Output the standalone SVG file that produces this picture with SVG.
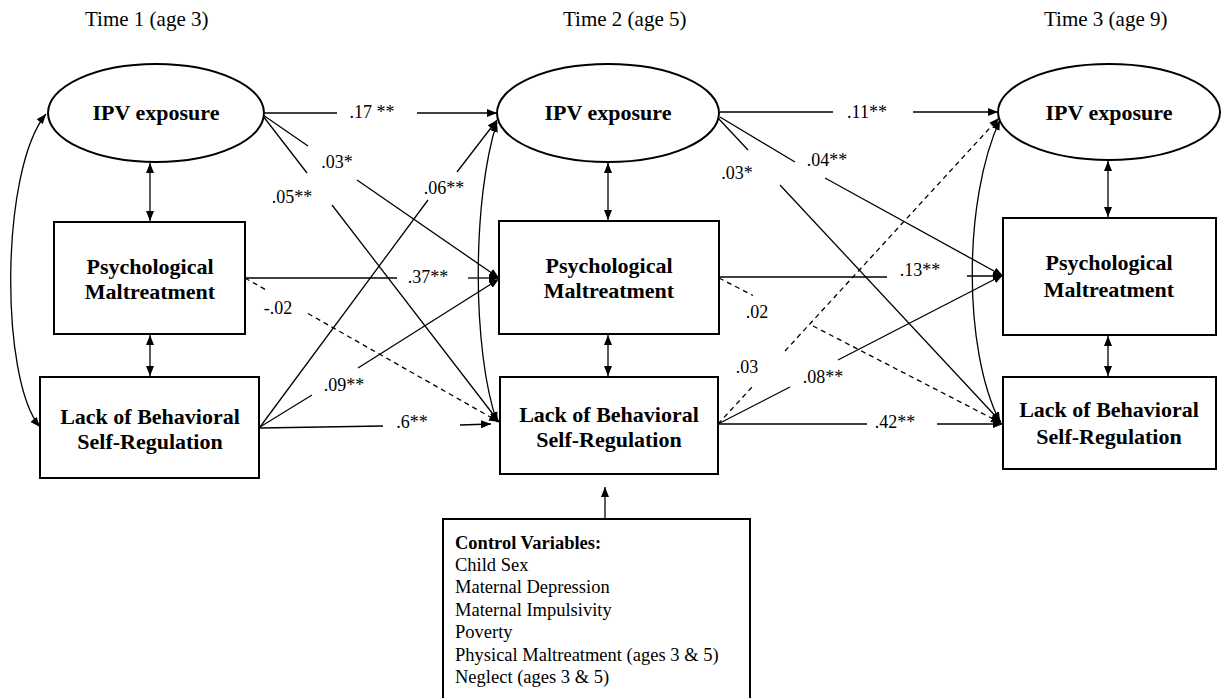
<svg xmlns="http://www.w3.org/2000/svg" width="1226" height="698" viewBox="0 0 1226 698">
<style>
.node{fill:#fff;stroke:#000;stroke-width:2}
.lbl{font-family:"Liberation Serif","Times New Roman",serif;font-weight:bold;font-size:22px;text-anchor:middle;fill:#000}
.time{font-family:"Liberation Serif","Times New Roman",serif;font-size:21px;fill:#000}
.coef{font-family:"Liberation Serif","Times New Roman",serif;font-size:18px;text-anchor:middle;fill:#000}
.ctl{font-family:"Liberation Serif","Times New Roman",serif;font-size:18.5px;fill:#000}
.ln{fill:none;stroke:#000;stroke-width:1.3}
.dash{stroke-dasharray:5 4}
.arr{marker-end:url(#ah)}
.dbl{marker-start:url(#ah);marker-end:url(#ah)}
</style>
<defs>
<marker id="ah" viewBox="0 0 10 8" refX="10" refY="4" markerWidth="10" markerHeight="8" markerUnits="userSpaceOnUse" orient="auto-start-reverse">
<path d="M0,0 L10,4 L0,8 z" fill="#000"/>
</marker>
</defs>
<rect width="1226" height="698" fill="#fff"/>

<g id="time-labels">
<text class="time" x="85" y="26">Time 1 (age 3)</text>
<text class="time" x="563" y="26">Time 2 (age 5)</text>
<text class="time" x="1044" y="26">Time 3 (age 9)</text>
</g>

<g id="connectors">
<!-- vertical covariances -->
<line class="ln dbl" x1="150" y1="163" x2="150" y2="221"/>
<line class="ln dbl" x1="150" y1="335" x2="150" y2="376"/>
<line class="ln dbl" x1="608" y1="163" x2="608" y2="220"/>
<line class="ln dbl" x1="608" y1="335" x2="608" y2="376"/>
<line class="ln dbl" x1="1108" y1="161" x2="1108" y2="217"/>
<line class="ln dbl" x1="1108" y1="336" x2="1108" y2="376"/>
<!-- curved covariances -->
<path class="ln dbl" d="M46,114 C0,170 0,380 40,427"/>
<path class="ln dbl" d="M497,122 C472,200 472,350 497,422"/>
<path class="ln dbl" d="M1000,120 C963,200 963,350 1000,422"/>
<!-- Time 1 to Time 2 -->
<line class="ln" x1="263" y1="113" x2="337" y2="113"/>
<line class="ln arr" x1="417" y1="113" x2="497" y2="113"/>
<line class="ln" x1="263" y1="115" x2="308" y2="146"/>
<line class="ln arr" x1="357" y1="180" x2="499" y2="278"/>
<line class="ln" x1="263" y1="116" x2="307" y2="173"/>
<line class="ln arr" x1="332" y1="205" x2="499" y2="422"/>
<line class="ln" x1="245" y1="278" x2="397" y2="278"/>
<line class="ln arr" x1="468" y1="278" x2="499" y2="278"/>
<line class="ln dash" x1="245" y1="278" x2="267" y2="290.5"/>
<line class="ln dash arr" x1="308" y1="313.5" x2="499" y2="422"/>
<line class="ln" x1="260" y1="427" x2="428" y2="200"/>
<line class="ln arr" x1="457" y1="172" x2="497" y2="120"/>
<line class="ln" x1="260" y1="427" x2="312" y2="395"/>
<line class="ln arr" x1="358" y1="368" x2="499" y2="279"/>
<line class="ln" x1="260" y1="428" x2="383" y2="426"/>
<line class="ln arr" x1="460" y1="425" x2="491" y2="424"/>
<!-- Time 2 to Time 3 -->
<line class="ln" x1="720" y1="112" x2="833" y2="112"/>
<line class="ln arr" x1="913" y1="112" x2="998" y2="112"/>
<line class="ln" x1="720" y1="117" x2="795" y2="162"/>
<line class="ln arr" x1="825" y1="178" x2="1003" y2="276"/>
<line class="ln" x1="718" y1="118" x2="748" y2="150"/>
<line class="ln arr" x1="780" y1="185" x2="1001" y2="422"/>
<line class="ln" x1="719" y1="277" x2="887" y2="277"/>
<line class="ln arr" x1="967" y1="276" x2="1003" y2="276"/>
<line class="ln dash" x1="719" y1="278" x2="753" y2="295.5"/>
<line class="ln dash arr" x1="813" y1="326" x2="1001" y2="423"/>
<line class="ln dash" x1="718" y1="424" x2="753" y2="386"/>
<line class="ln dash arr" x1="785" y1="351" x2="999" y2="118"/>
<line class="ln" x1="718" y1="424" x2="790" y2="387"/>
<line class="ln arr" x1="838" y1="360" x2="1003" y2="275"/>
<line class="ln" x1="718" y1="424" x2="867" y2="424"/>
<line class="ln arr" x1="937" y1="424" x2="1003" y2="424"/>
<!-- controls -->
<line class="ln arr" x1="605" y1="519" x2="605" y2="487"/>
</g>

<g id="coefficients">
<text class="coef" x="372" y="118">.17 **</text>
<text class="coef" x="337" y="168">.03*</text>
<text class="coef" x="292" y="203">.05**</text>
<text class="coef" x="444" y="194">.06**</text>
<text class="coef" x="428" y="283">.37**</text>
<text class="coef" x="278" y="314">-.02</text>
<text class="coef" x="344" y="391">.09**</text>
<text class="coef" x="412" y="428">.6**</text>
<text class="coef" x="867" y="118">.11**</text>
<text class="coef" x="827" y="166">.04**</text>
<text class="coef" x="737" y="179">.03*</text>
<text class="coef" x="920" y="276">.13**</text>
<text class="coef" x="757" y="318">.02</text>
<text class="coef" x="747" y="373">.03</text>
<text class="coef" x="823" y="383">.08**</text>
<text class="coef" x="895" y="428">.42**</text>
</g>

<g id="ipv1"><ellipse class="node" cx="156" cy="113" rx="108" ry="49"/><text class="lbl" x="156" y="120">IPV exposure</text></g>
<g id="pm1"><rect class="node" x="54" y="222" width="191" height="112"/><text class="lbl" x="150" y="274">Psychological</text><text class="lbl" x="150" y="299">Maltreatment</text></g>
<g id="lbsr1"><rect class="node" x="40" y="377" width="219" height="101"/><text class="lbl" x="150" y="424">Lack of Behavioral</text><text class="lbl" x="150" y="449">Self-Regulation</text></g>

<g id="ipv2"><ellipse class="node" cx="608" cy="113" rx="111" ry="49"/><text class="lbl" x="608" y="120">IPV exposure</text></g>
<g id="pm2"><rect class="node" x="499" y="221" width="220" height="113"/><text class="lbl" x="609" y="273">Psychological</text><text class="lbl" x="609" y="298">Maltreatment</text></g>
<g id="lbsr2"><rect class="node" x="500" y="377" width="218" height="97"/><text class="lbl" x="609" y="422">Lack of Behavioral</text><text class="lbl" x="609" y="447">Self-Regulation</text></g>

<g id="ipv3"><ellipse class="node" cx="1109" cy="112" rx="111" ry="48"/><text class="lbl" x="1109" y="120">IPV exposure</text></g>
<g id="pm3"><rect class="node" x="1003" y="218" width="213" height="117"/><text class="lbl" x="1109" y="270">Psychological</text><text class="lbl" x="1109" y="297">Maltreatment</text></g>
<g id="lbsr3"><rect class="node" x="1003" y="377" width="213" height="92"/><text class="lbl" x="1109" y="417">Lack of Behavioral</text><text class="lbl" x="1109" y="444">Self-Regulation</text></g>

<g id="controls">
<rect class="node" x="443" y="519" width="307" height="195" stroke-width="1.5"/>
<text class="ctl" x="455" y="549" font-weight="bold">Control Variables:</text>
<text class="ctl" x="455" y="571">Child Sex</text>
<text class="ctl" x="455" y="593">Maternal Depression</text>
<text class="ctl" x="455" y="616">Maternal Impulsivity</text>
<text class="ctl" x="455" y="638">Poverty</text>
<text class="ctl" x="455" y="661">Physical Maltreatment (ages 3 &amp; 5)</text>
<text class="ctl" x="455" y="683">Neglect (ages 3 &amp; 5)</text>
</g>
</svg>
